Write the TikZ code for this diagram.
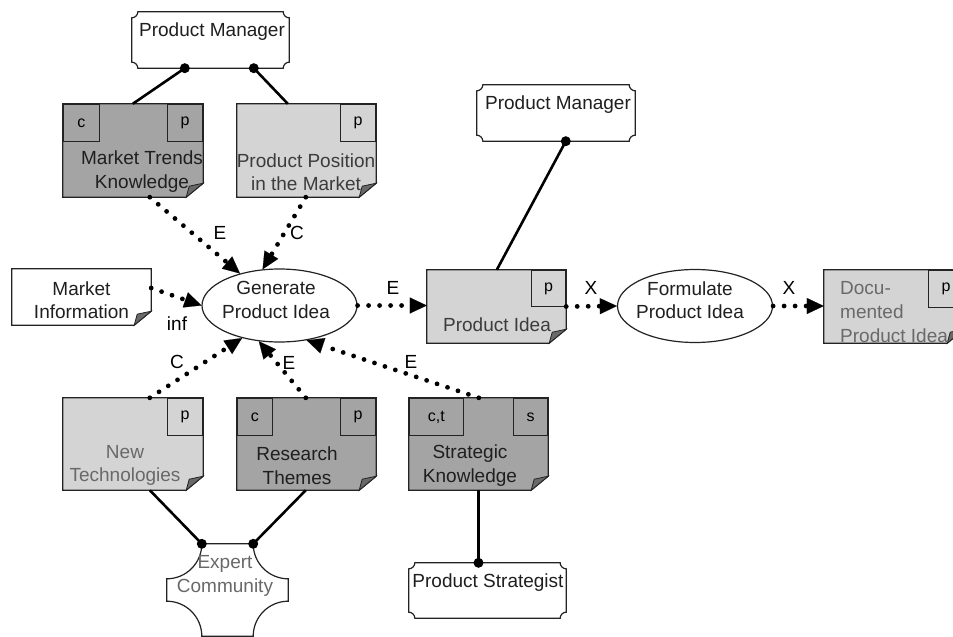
\documentclass[tikz,border=0pt]{standalone}
\usepackage{fontspec}
\setmainfont{Liberation Sans}
\usetikzlibrary{arrows.meta,calc,shapes.geometric}
\definecolor{dk}{RGB}{164,164,164}
\definecolor{lt}{RGB}{212,212,212}
\definecolor{foldc}{RGB}{105,105,105}
\definecolor{tgray}{RGB}{105,105,105}
\definecolor{tmid}{RGB}{60,60,60}
\definecolor{edgec}{RGB}{35,35,35}
\tikzset{
 area/.style 2 args={rectangle, draw=none, inner sep=0pt, minimum width=#1pt, minimum height=#2pt},
 txt/.style={inner sep=0pt, align=center, text=black!88},
 tab/.style={rectangle, draw=edgec, line width=1.2pt, minimum height=37pt, inner sep=0pt, font=\fontsize{16}{16}\selectfont},
 outline/.style={draw=edgec, line width=1.2pt},
 proc/.style={ellipse, draw=edgec, line width=1.2pt, fill=white, inner sep=0pt, minimum width=155pt, minimum height=73pt},
 link/.style={line width=2.6pt, black},
 dotlink/.style={line width=4.8pt, line cap=round, dash pattern=on 0pt off 11pt, -{Triangle[length=17pt,width=16pt,line width=0.1pt]}},
 elabel/.style={inner sep=0pt},
}
\newcommand\docbox[2]{%
 \path[outline, fill=#2, line join=miter] (#1.north west) -- (#1.north east) -- ($(#1.south east)+(0,-14)$) -- ($(#1.south east)+(-17,0)$) -- (#1.south west) -- cycle;
 \path[draw=edgec, line width=0.8pt, fill=foldc] ($(#1.south east)+(0,-14)$) -- ($(#1.south east)+(-17,0)$) -- ($(#1.south east)+(-14,-11)$) -- cycle;
}
\newcommand\actorbox[1]{%
 \path[outline, fill=white] ($(#1.north west)+(6,0)$) -- ($(#1.north east)+(-6,0)$) arc[start angle=180,end angle=270,radius=6pt] -- ($(#1.south east)+(0,-6)$) arc[start angle=90,end angle=180,radius=6pt] -- ($(#1.south west)+(6,0)$) arc[start angle=0,end angle=90,radius=6pt] -- ($(#1.north west)+(0,6)$) arc[start angle=270,end angle=360,radius=6pt] -- cycle;
}
\begin{document}
\begin{tikzpicture}[x=1pt,y=-1pt,font=\fontsize{19}{23.5}\selectfont]
\useasboundingbox (0,0) rectangle (953,637);
\clip (0,0) rectangle (953,637);
% placement areas
\node[area={157}{56}] (pm1) at (210.5,40) {};
\node[area={158}{56}] (pm2) at (556,113) {};
\node[area={157}{55}] (ps) at (487.5,590.5) {};
\node[area={140}{93}] (mtk) at (133,150.5) {};
\node[area={139}{93}] (ppm) at (306.5,150.5) {};
\node[area={139}{56}] (mi) at (81.5,297) {};
\node[area={139}{73}] (pi) at (496.5,306.5) {};
\node[area={140}{73}] (dpi) at (894,306.5) {};
\node[area={140}{92}] (nt) at (133,444) {};
\node[area={139}{92}] (rt) at (306.5,444) {};
\node[area={139}{92}] (sk) at (478.5,444) {};
\node[area={121}{92}] (ec) at (227.5,590) {};
% processes
\node[proc] (gpi) at (279.5,305.5) {};
\node[proc] (fpi) at (695,306) {};
% actors
\actorbox{pm1}
\actorbox{pm2}
\actorbox{ps}
\path[outline, fill=white] ($(ec.north west)+(35,0)$) -- ($(ec.north east)+(-35,0)$) arc[start angle=180,end angle=270,radius=35pt] -- ($(ec.south east)+(0,-35)$) arc[start angle=90,end angle=180,radius=35pt] -- ($(ec.south west)+(35,0)$) arc[start angle=0,end angle=90,radius=35pt] -- ($(ec.north west)+(0,35)$) arc[start angle=270,end angle=360,radius=35pt] -- cycle;
% documents
\docbox{mtk}{dk}
\docbox{ppm}{lt}
\docbox{mi}{white}
\docbox{pi}{lt}
\docbox{dpi}{lt}
\docbox{nt}{lt}
\docbox{rt}{dk}
\docbox{sk}{dk}
% tabs
\node[tab, minimum width=36pt, anchor=north west] (mtkc) at (mtk.north west) {c};
\node[tab, minimum width=35pt, anchor=north east] (mtkp) at (mtk.north east) {p};
\node[tab, minimum width=35pt, anchor=north east] (ppmp) at (ppm.north east) {p};
\node[tab, minimum width=34pt, minimum height=36pt, anchor=north east] (pip) at (pi.north east) {p};
\node[tab, minimum width=35pt, anchor=north east] (dpip) at (dpi.north east) {p};
\node[tab, minimum width=35pt, anchor=north east] (ntp) at (nt.north east) {p};
\node[tab, minimum width=35pt, anchor=north west] (rtc) at (rt.north west) {c};
\node[tab, minimum width=35pt, anchor=north east] (rtp) at (rt.north east) {p};
\node[tab, minimum width=54pt, anchor=north west] (skc) at (sk.north west) {c,t};
\node[tab, minimum width=34pt, anchor=north east] (sks) at (sk.north east) {s};
% texts
\node[txt] (pm1t) at (212,32) {Product Manager};
\node[txt] (pm2t) at (558,105) {Product Manager};
\node[txt] (pst) at (488,583) {Product Strategist};
\node[txt] (mtkt) at (142,171.5) {Market Trends\\Knowledge};
\node[txt, text=tmid] (ppmt) at (306,172) {Product Position\\in the Market};
\node[txt] (mit) at (81.5,300) {Market\\Information};
\node[txt] (gpit) at (276,300) {Generate\\Product Idea};
\node[txt] (fpit) at (690,300) {Formulate\\Product Idea};
\node[txt, text=tmid] (pit) at (497,325) {Product Idea};
\node[txt, text=tgray] (ntt) at (125,465.5) {New\\Technologies};
\node[txt] (rtt) at (297,465.5) {Research\\Themes};
\node[txt] (skt) at (470,465.5) {Strategic\\Knowledge};
\node[txt, text=tgray] (ect) at (225,576) {Expert\\Community};
\begin{scope}
\clip (dpi.north west) rectangle (dpi.south east);
\node[txt, align=left, anchor=west, text=tgray, font=\fontsize{19}{24}\selectfont] (dpit) at (840,312) {Docu-\\mented\\Product Idea};
\end{scope}
% solid links
\coordinate (a1) at ($(pm1.south west)+(53,0)$);
\coordinate (a2) at ($(pm1.south west)+(122,0)$);
\coordinate (a3) at ($(pm2.south west)+(89,0)$);
\coordinate (a4) at ($(ec.north west)+(35,0)$);
\coordinate (a5) at ($(ec.north east)+(-35,0)$);
\coordinate (a6) at (sk.south |- ps.north);
\draw[link] (a1) -- ($(mtk.north west)+(70,0)$);
\draw[link] (a2) -- ($(ppm.north west)+(51,0)$);
\draw[link] (a3) -- ($(pi.north west)+(70,0)$);
\draw[link] ($(nt.south west)+(87,0)$) -- (a4);
\draw[link] ($(rt.south west)+(69,0)$) -- (a5);
\draw[link] (sk.south) -- (a6);
\foreach \c in {a1,a2,a3,a4,a5,a6} \fill (\c) circle (5pt);
% dotted flows
\draw[dotlink] ($(mtk.south west)+(87,0)$) -- (gpi.141);
\draw[dotlink] ($(ppm.south west)+(69,0)$) -- (gpi.115);
\draw[dotlink] ($(mi.east)+(0,-9)$) -- (gpi.west);
\draw[dotlink] ($(nt.north west)+(87,0)$) -- (gpi.221);
\draw[dotlink] ($(rt.north west)+(69,0)$) -- (gpi.240);
\draw[dotlink] ($(sk.north west)+(70,0)$) -- (gpi.308);
\draw[dotlink] (gpi.east) -- (gpi.east -| pi.west);
\draw[dotlink] (pi.east) -- (fpi.west);
\draw[dotlink] (fpi.east) -- (fpi.east -| dpi.west);
% flow labels
\node[elabel] (l1) at (220,233) {E};
\node[elabel] (l2) at (297,233) {C};
\node[elabel] (l3) at (177,324) {inf};
\node[elabel] (l4) at (177,362) {C};
\node[elabel] (l5) at (289,363) {E};
\node[elabel] (l6) at (411,362) {E};
\node[elabel] (l7) at (393,288) {E};
\node[elabel] (l8) at (591,288) {X};
\node[elabel] (l9) at (789,288) {X};
\end{tikzpicture}
\end{document}
